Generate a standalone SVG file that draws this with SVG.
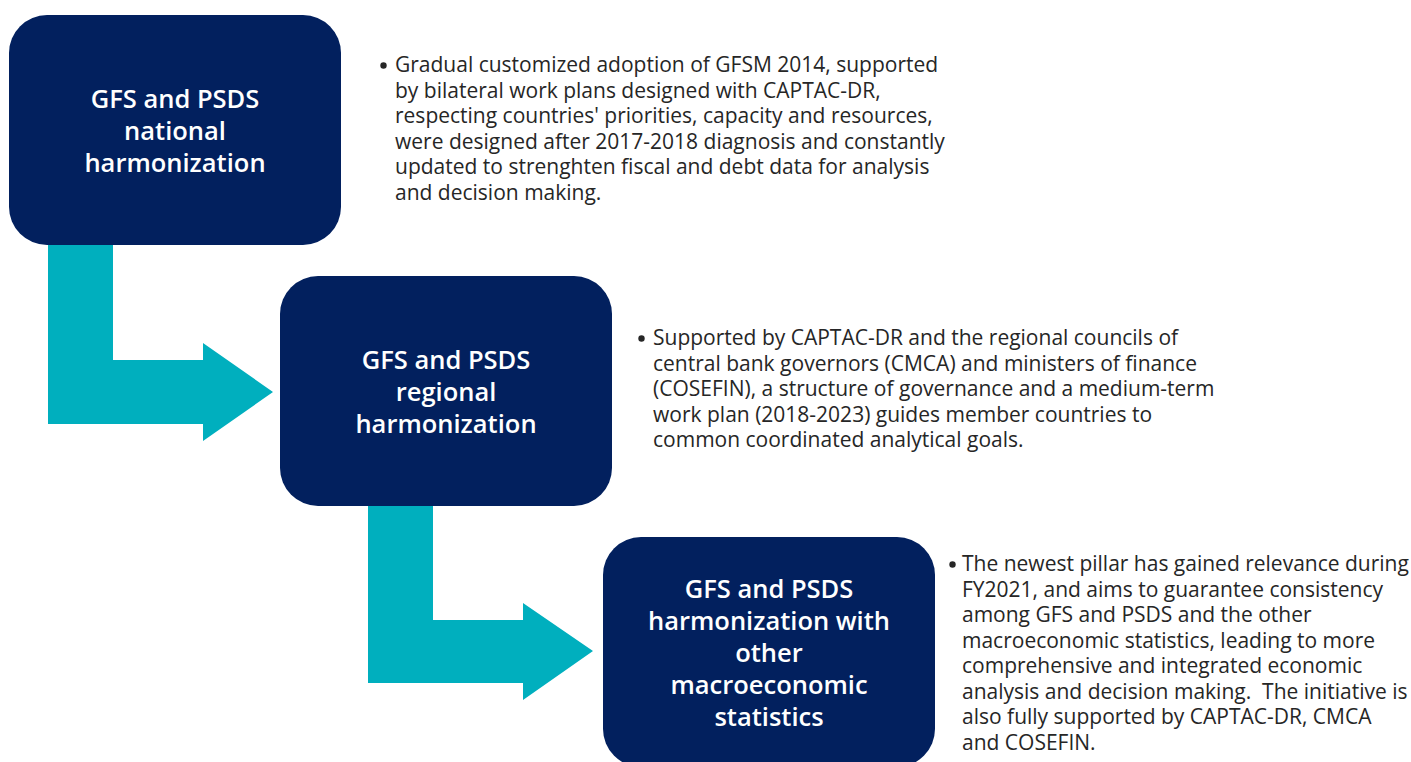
<svg xmlns="http://www.w3.org/2000/svg" width="1411" height="762" viewBox="0 0 1411 762">
<style>
.box{fill:#02205E}
.arrow{fill:#00AFBE}
.title{font-family:"Open Sans",sans-serif;font-weight:600;font-size:25.5px;fill:#FFFFFF;text-anchor:middle}
.body{font-family:"Open Sans",sans-serif;font-size:21px;fill:#262626}
.dot{fill:#262626}
</style>
<rect width="1411" height="762" fill="#FFFFFF"/>
<g id="connectors">
<path class="arrow" d="M48,245 H113 V360 H203 V343 L273,392 L203,441 V424 H48 Z"/>
<path class="arrow" d="M368,506 H433 V620 H523 V603 L593,651 L523,700 V683 H368 Z"/>
</g>
<g id="node1">
<rect class="box" x="9" y="15" width="332" height="230" rx="38" ry="38"/>
<text class="title" x="175" y="108">GFS and PSDS</text>
<text class="title" x="175" y="140">national</text>
<text class="title" x="175" y="172">harmonization</text>
</g>
<g id="node2">
<rect class="box" x="280" y="276" width="332" height="230" rx="38" ry="38"/>
<text class="title" x="446" y="369">GFS and PSDS</text>
<text class="title" x="446" y="401">regional</text>
<text class="title" x="446" y="433">harmonization</text>
</g>
<g id="node3">
<rect class="box" x="603" y="537" width="332" height="230" rx="38" ry="38"/>
<text class="title" x="769" y="598">GFS and PSDS</text>
<text class="title" x="769" y="630">harmonization with</text>
<text class="title" x="769" y="662">other</text>
<text class="title" x="769" y="694">macroeconomic</text>
<text class="title" x="769" y="726">statistics</text>
</g>
<g id="text1" class="body">
<circle class="dot" cx="383.5" cy="65.5" r="3.2"/>
<text x="395" y="72">Gradual customized adoption of GFSM 2014, supported</text>
<text x="395" y="97.5">by bilateral work plans designed with CAPTAC-DR,</text>
<text x="395" y="123">respecting countries' priorities, capacity and resources,</text>
<text x="395" y="148.5">were designed after 2017-2018 diagnosis and constantly</text>
<text x="395" y="174">updated to strenghten fiscal and debt data for analysis</text>
<text x="395" y="199.5">and decision making.</text>
</g>
<g id="text2" class="body">
<circle class="dot" cx="641.5" cy="338.5" r="3.2"/>
<text x="653" y="345">Supported by CAPTAC-DR and the regional councils of</text>
<text x="653" y="370.5">central bank governors (CMCA) and ministers of finance</text>
<text x="653" y="396">(COSEFIN), a structure of governance and a medium-term</text>
<text x="653" y="421.5">work plan (2018-2023) guides member countries to</text>
<text x="653" y="447">common coordinated analytical goals.</text>
</g>
<g id="text3" class="body">
<circle class="dot" cx="952.5" cy="564.5" r="3.2"/>
<text x="962" y="571">The newest pillar has gained relevance during</text>
<text x="962" y="596.5">FY2021, and aims to guarantee consistency</text>
<text x="962" y="622">among GFS and PSDS and the other</text>
<text x="962" y="647.5">macroeconomic statistics, leading to more</text>
<text x="962" y="673">comprehensive and integrated economic</text>
<text x="962" y="698.5" xml:space="preserve">analysis and decision making.  The initiative is</text>
<text x="962" y="724">also fully supported by CAPTAC-DR, CMCA</text>
<text x="962" y="749.5">and COSEFIN.</text>
</g>
</svg>
